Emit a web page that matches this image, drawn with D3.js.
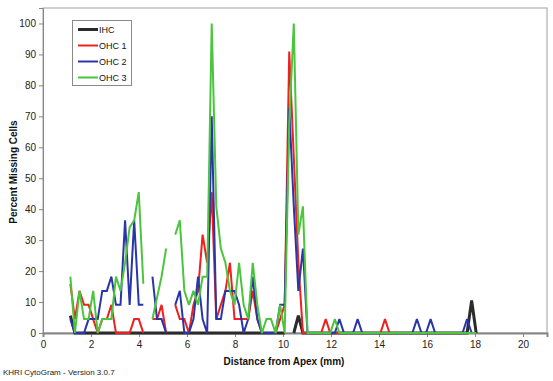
<!DOCTYPE html>
<html>
<head>
<meta charset="utf-8">
<script src="https://cdn.jsdelivr.net/npm/d3@7"></script>
<style>
  body { margin: 0; background: #fff; }
  svg { display: block; font-family: Arial, "Liberation Sans", sans-serif; }
</style>
</head>
<body>
<svg id="cytogram_plot" width="553" height="381"></svg>
<script>
// ====================== DATA ======================
// distance from apex (mm) for each segment
let distance = [
  1.14, 1.33, 1.52, 1.71, 1.90, 2.09, 2.28, 2.47, 2.66, 2.85,
  3.04, 3.23, 3.42, 3.61, 3.80, 3.99, 4.18, 4.37, 4.56, 4.75,
  4.94, 5.13, 5.32, 5.51, 5.70, 5.89, 6.08, 6.27, 6.46, 6.65,
  6.84, 7.03, 7.22, 7.41, 7.60, 7.79, 7.98, 8.17, 8.36, 8.55,
  8.74, 8.93, 9.12, 9.31, 9.50, 9.69, 9.88, 10.07, 10.26, 10.45,
  10.64, 10.83, 11.02, 11.21, 11.40, 11.59, 11.78, 11.97, 12.16, 12.35,
  12.54, 12.73, 12.92, 13.11, 13.30, 13.49, 13.68, 13.87, 14.06, 14.25,
  14.44, 14.63, 14.82, 15.01, 15.20, 15.39, 15.58, 15.77, 15.96, 16.15,
  16.34, 16.53, 16.72, 16.91, 17.10, 17.29, 17.48, 17.67, 17.86, 18.05
];

let ihc = [
  5.6, 0, 0, 0, 0, 0, 0, 0, 0, 0,
  0, 0, 0, 0, 0, 0, 0, 0, 0, 0,
  0, 0, 0, 0, 0, 0, 0, 0, 0, 0,
  0, 0, 0, 0, 0, 0, 0, 0, 0, 0,
  0, 0, 0, 0, 0, 0, 0, 0, null, 0,
  5.6, 0, 0, 0, 0, 0, 0, 0, 0, 0,
  0, 0, 0, 0, 0, 0, 0, 0, 0, 0,
  0, 0, 0, 0, 0, 0, 0, 0, 0, 0,
  0, 0, 0, 0, 0, 0, 0, 0, 10.5, 0
];

let ohc1 = [
  15.9, 4.5, 13.6, 9.1, 9.1, 4.5, 0, 4.5, 4.5, 9.1,
  0, 0, 0, 0, 4.5, 4.5, 0, null, 4.5, 4.5,
  9.1, 0, null, 9.1, 4.5, 4.5, 0, 9.1, 13.6, 31.8,
  22.7, 45.5, 4.5, 9.1, 13.6, 22.7, 4.5, 4.5, 4.5, 4.5,
  13.6, 4.5, 0, 0, 0, 0, 4.5, 9.1, 90.9, 56.8,
  22.7, 0, 0, 0, 0, 0, 4.5, 0, 0, 0,
  0, 0, 0, 0, 0, 0, 0, 0, 0, 4.5,
  0, 0, 0, 0, 0, 0, 0, 0, 0, 0,
  0, 0, 0, 0, 0, 0, 0, 0, 0, 0
];

let ohc2 = [
  4.5, 0, 0, 0, 4.5, 4.5, 4.5, 13.6, 13.6, 18.2,
  9.1, 9.1, 36.4, 9.1, 36.4, 9.1, 9.1, null, 18.2, 4.5,
  4.5, 0, null, 9.1, 13.6, 0, 0, 4.5, 18.2, 4.5,
  0, 70, 4.5, 4.5, 13.6, 13.6, 13.6, 9.1, 0, 4.5,
  18.2, 4.5, 0, 0, 0, 0, 9.1, 9.1, 72.7, 40.9,
  13.6, 27.3, 0, 0, 0, 0, 0, 0, 0, 4.5,
  0, 0, 0, 4.5, 0, 0, 0, 0, 0, 0,
  0, 0, 0, 0, 0, 0, 4.5, 0, 0, 4.5,
  0, 0, 0, 0, 0, 0, 0, 4.5, 0, 0
];

let ohc3 = [
  18.2, 0, 13.6, 4.5, 4.5, 13.6, 0, 4.5, 4.5, 4.5,
  18.2, 13.6, 22.7, 34.1, 36.4, 45.5, 15.9, null, 4.5, 11.4,
  18.2, 27.3, null, 31.8, 36.4, 13.6, 9.1, 13.6, 9.1, 18.2,
  18.2, 100, 40.9, 27.3, 22.7, 13.6, 9.1, 22.7, 9.1, 4.5,
  22.7, 9.1, 0, 4.5, 4.5, 0, 9.1, 0, 68.2, 100,
  31.8, 40.9, 0, 0, 0, 0, 0, 0, 4.5, 0,
  0, 0, 0, 0, 0, 0, 0, 0, 0, 0,
  0, 0, 0, 0, 0, 0, 0, 0, 0, 0,
  0, 0, 0, 0, 0, 0, 0, 0, 0, 0
];

let seriesNames = ["IHC", "OHC 1", "OHC 2", "OHC 3"];
let seriesColors = ["#2b2b2b", "#ee2020", "#2a36a8", "#4cc43e"];
let seriesWidths = [3, 2, 2, 2];
let xTicks = [0, 2, 4, 6, 8, 10, 12, 14, 16, 18, 20];
let yTicks = [0, 10, 20, 30, 40, 50, 60, 70, 80, 90, 100];

// ====================== PLOT ======================
let marginLeft = 43;
let marginRight = 6;
let marginTop = 8;
let plotBottom = 333;
let widthPlot = 553;

let svg = d3.select("#cytogram_plot");

let xScale = d3.scaleLinear().domain([0, 21]).range([marginLeft, widthPlot - marginRight]);
let yScale = d3.scaleLinear().domain([0, 105]).range([plotBottom, marginTop]);

// plot area frame (top + right)
svg.append("rect")
  .attr("x", xScale(0))
  .attr("y", yScale(105))
  .attr("width", xScale(21) - xScale(0))
  .attr("height", yScale(0) - yScale(105))
  .attr("fill", "#fff")
  .attr("stroke", "#a0a0a0")
  .attr("stroke-width", 1);

// y axis
let yAxis = svg.append("g")
  .attr("transform", `translate(${xScale(0)},0)`)
  .call(d3.axisLeft(yScale).tickValues(yTicks).tickSize(4).tickPadding(3));

// x axis
let xAxis = svg.append("g")
  .attr("transform", `translate(0,${yScale(0)})`)
  .call(d3.axisBottom(xScale).tickValues(xTicks).tickSize(4).tickPadding(4));

[yAxis, xAxis].forEach(ax => {
  ax.selectAll("path").attr("stroke", "#868686");
  ax.selectAll("line").attr("stroke", "#868686");
  ax.selectAll("text").attr("fill", "#222").style("font-size", "10px");
  ax.attr("font-family", null);
});
xAxis.select("path").attr("stroke-width", 2);

// axis titles
svg.append("text")
  .attr("x", 284)
  .attr("y", 365)
  .style("text-anchor", "middle")
  .style("font-size", "10px")
  .style("font-weight", "bold")
  .attr("fill", "#111")
  .text("Distance from Apex (mm)");

svg.append("text")
  .attr("transform", "translate(17,172) rotate(-90)")
  .style("text-anchor", "middle")
  .style("font-size", "10px")
  .style("font-weight", "bold")
  .attr("fill", "#111")
  .text("Percent Missing Cells");

svg.append("text")
  .attr("x", 3)
  .attr("y", 375)
  .style("font-size", "8px")
  .attr("fill", "#222")
  .text("KHRI CytoGram - Version 3.0.7");

// lines
let allSeries = [ihc, ohc1, ohc2, ohc3];

let line = d3.line()
  .defined(d => d.v !== null)
  .x(d => xScale(d.x))
  .y(d => yScale(d.v));

allSeries.forEach((vals, k) => {
  let pts = vals.map((v, i) => ({ x: distance[i], v: v }));
  svg.append("path")
    .datum(pts)
    .attr("d", line)
    .attr("fill", "none")
    .attr("stroke", seriesColors[k])
    .attr("stroke-width", seriesWidths[k])
    .attr("stroke-linejoin", "miter")
    .attr("stroke-miterlimit", 3);
});

// legend
let legend = svg.append("g").attr("transform", "translate(72,20)");
legend.append("rect")
  .attr("x", 0.5)
  .attr("y", 0.5)
  .attr("width", 59)
  .attr("height", 65)
  .attr("fill", "#fff")
  .attr("stroke", "#8a8a8a");

seriesNames.forEach((name, k) => {
  let yy = 9.5 + k * 16;
  legend.append("line")
    .attr("x1", 6)
    .attr("x2", 26)
    .attr("y1", yy)
    .attr("y2", yy)
    .attr("stroke", seriesColors[k])
    .attr("stroke-width", seriesWidths[k]);
  legend.append("text")
    .attr("x", 27)
    .attr("y", yy + 3.5)
    .style("font-size", "9px")
    .attr("fill", "#111")
    .text(name);
});
</script>
</body>
</html>
